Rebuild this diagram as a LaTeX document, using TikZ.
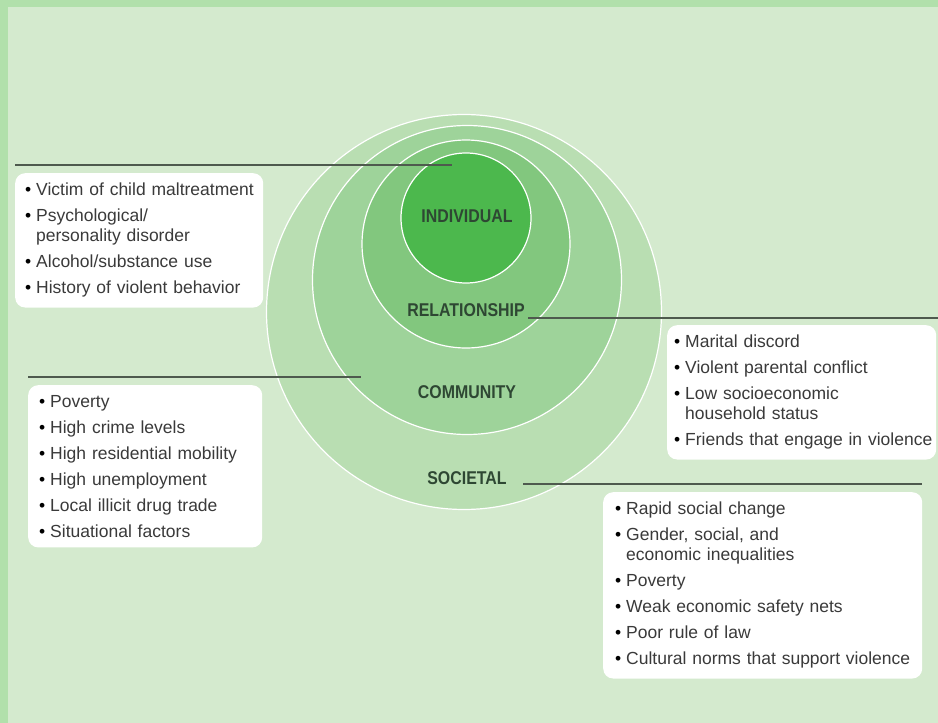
\documentclass[tikz,border=0pt]{standalone}
\usepackage{fontspec}
\setmainfont{Liberation Sans}
\newfontfamily\ringfont[FakeStretch=0.86]{Liberation Sans}

\definecolor{bgcol}{HTML}{D4EACE}
\definecolor{edgecol}{HTML}{B1E0AB}
\definecolor{socgreen}{HTML}{B9DEB2}
\definecolor{comgreen}{HTML}{9ED39A}
\definecolor{relgreen}{HTML}{82C77E}
\definecolor{indgreen}{HTML}{4CB84D}
\definecolor{labelcol}{HTML}{2E4733}
\definecolor{leadcol}{HTML}{4E5A4E}
\definecolor{itemcol}{HTML}{3A3A3A}

\newcommand{\bul}{\makebox[11pt][l]{\textcolor{black}{\textbullet}}}
\newcommand{\contind}{\hspace*{11pt}}

\begin{document}
\begin{tikzpicture}
        [x=1pt, y=-1pt,
         ring/.style={circle, draw=white, line width=1.2pt, inner sep=0pt},
         ringlabel/.style={font=\ringfont\bfseries\fontsize{18.5}{20}\selectfont, text=labelcol},
         factorbox/.style={fill=white, rounded corners=10pt, anchor=north west, inner ysep=10pt,
                           align=left, font=\fontsize{17.5}{20}\selectfont, text=itemcol},
         leader/.style={draw=leadcol, line width=1.9pt}]

        \useasboundingbox (0,0) rectangle (938,723);
        \fill[bgcol] (0,0) rectangle (938,723);
        \fill[edgecol] (0,0) rectangle (938,7);
        \fill[edgecol] (0,0) rectangle (8,723);

        \foreach \name/\cx/\cy/\d/\col in {societal/464/312/395/socgreen, community/467/280/309/comgreen,
                                            relationship/466/244/208/relgreen, individual/466/218/130/indgreen}
        \node[ring, fill=\col, minimum size=\d pt] (\name) at (\cx,\cy) {};

        \foreach \name/\cx/\cy/\txt in {individual/467/216/INDIVIDUAL, relationship/466/310/RELATIONSHIP,
                                         community/467/392/COMMUNITY, societal/467/478/SOCIETAL}
        \node[ringlabel] (\name-label) at (\cx,\cy) {\txt};

        \node[factorbox, inner xsep=10pt, text width=228pt] (ind-box) at (15,173)
            {\bul\mbox{Victim of child maltreatment}\\[6pt]
             \bul\mbox{Psychological/}\\
             \contind\mbox{personality disorder}\\[6pt]
             \bul\mbox{Alcohol/substance use}\\[6pt]
             \bul\mbox{History of violent behavior}};

        \node[factorbox, inner xsep=7pt, text width=255pt] (rel-box) at (667,325)
            {\bul\mbox{Marital discord}\\[6pt]
             \bul\mbox{Violent parental conflict}\\[6pt]
             \bul\mbox{Low socioeconomic}\\
             \contind\mbox{household status}\\[6pt]
             \bul\mbox{Friends that engage in violence}};

        \node[factorbox, inner xsep=11pt, text width=212pt] (com-box) at (28,385)
            {\bul\mbox{Poverty}\\[6pt]
             \bul\mbox{High crime levels}\\[6pt]
             \bul\mbox{High residential mobility}\\[6pt]
             \bul\mbox{High unemployment}\\[6pt]
             \bul\mbox{Local illicit drug trade}\\[6pt]
             \bul\mbox{Situational factors}};

        \node[factorbox, inner xsep=12pt, text width=295pt] (soc-box) at (603,492)
            {\bul\mbox{Rapid social change}\\[6pt]
             \bul\mbox{Gender, social, and}\\
             \contind\mbox{economic inequalities}\\[6pt]
             \bul\mbox{Poverty}\\[6pt]
             \bul\mbox{Weak economic safety nets}\\[6pt]
             \bul\mbox{Poor rule of law}\\[6pt]
             \bul\mbox{Cultural norms that support violence}};

        \coordinate (ind-tip) at (452,165);
        \coordinate (com-tip) at (361,377);
        \coordinate (rel-end) at (938,318);
        \coordinate (soc-end) at (922,484);

        \draw[leader] (ind-box.west |- ind-tip) -- (ind-tip);
        \draw[leader] (com-box.west |- com-tip) -- (com-tip);
        \draw[leader] (relationship-label.east |- rel-end) -- (rel-end);
        \draw[leader] ([xshift=13pt]societal-label.east |- soc-end) -- (soc-end);

    \end{tikzpicture}
\end{document}
